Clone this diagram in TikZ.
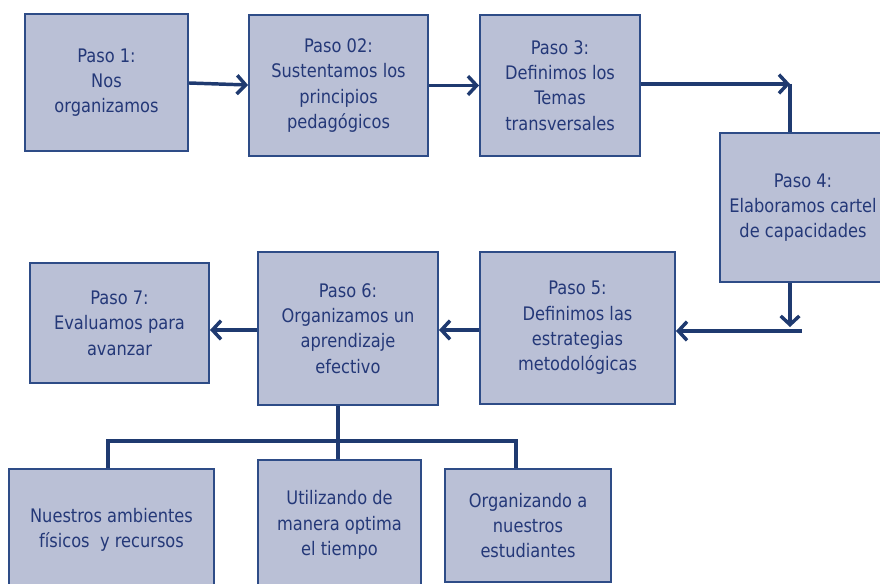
\documentclass[tikz,border=0pt]{standalone}
\usepackage{fontspec}
\setmainfont{DejaVu Sans}[FakeStretch=0.87]
\usetikzlibrary{arrows.meta}
\definecolor{mnavy}{RGB}{31,58,112}
\definecolor{mfill}{RGB}{186,192,214}
\definecolor{mline}{RGB}{46,76,135}
\definecolor{mtext}{RGB}{36,56,120}
\tikzset{paso/.style = {draw=mline, line width=1.5pt, fill=mfill, text=mtext,
                        align=center, inner sep=0pt,
                        font=\fontsize{14}{19}\selectfont},
         dims/.style 2 args = {minimum width=#1*0.75pt, minimum height=#2*0.75pt},
         link/.style = {draw=mnavy, line width=2.6pt},
         arr/.style = {link, -{Straight Barb[length=6.5pt,width=14pt]}}}

\begin{document}
\begin{tikzpicture}[x=0.75pt, y=-0.75pt]
      \useasboundingbox (0, 0) rectangle (880, 584);

      \node [paso, dims={163}{137}] (s1) at (106.5, 82.5) {Paso 1:\\Nos\\organizamos};
      \node [paso, dims={179}{141}] (s2) at (338.5, 85.5) {Paso 02:\\Sustentamos los\\principios\\pedagógicos};
      \node [paso, dims={160}{141}] (s3) at (560, 85.5) {Paso 3:\\Definimos los\\Temas\\transversales};
      \node [paso, dims={166}{149}] (s4) at (803, 207.5) {Paso 4:\\Elaboramos cartel\\de capacidades};
      \node [paso, dims={195}{152}] (s5) at (577.5, 328) {Paso 5:\\Definimos las\\estrategias\\metodológicas};
      \node [paso, dims={180}{153}] (s6) at (348, 328.5) {Paso 6:\\Organizamos un\\aprendizaje\\efectivo};
      \node [paso, dims={179}{120}] (s7) at (119.5, 323) {Paso 7:\\Evaluamos para\\avanzar};

      \node [paso, dims={205}{122}] (amb) at (111.5, 530) {Nuestros ambientes\\físicos\ \ y recursos};
      \node [paso, dims={163}{130}] (tie) at (339.5, 525) {Utilizando de\\manera optima\\el tiempo};
      \node [paso, dims={166}{113}] (est) at (528, 525.5) {Organizando a\\nuestros\\estudiantes};

      \coordinate (c1) at (790, 84);
      \coordinate (c2) at (790, 327);
      \coordinate (c3) at (802, 331);
      \coordinate (ja) at (108, 441);
      \coordinate (jb) at (338, 441);
      \coordinate (jc) at (516, 441);

      \draw [arr] (s1.east |- 0, 83) -- (s2.west |- 0, 85);
      \draw [arr] (s2.east) -- (s3.west);
      \draw [arr] (s3.east |- c1) -- (c1);
      \draw [link] (c1) -- (c1 |- s4.north);
      \draw [arr] (c2 |- s4.south) -- (c2);
      \draw [arr] (c3) -- (c3 -| s5.east);
      \draw [arr] (s5.west |- 0, 330) -- (s6.east |- 0, 330);
      \draw [arr] (s6.west |- 0, 330) -- (s7.east |- 0, 330);

      \draw [link] (jb |- s6.south) -- (jb |- tie.north);
      \draw [link] (ja |- amb.north) -- (ja) -- (jc) -- (jc |- est.north);
\end{tikzpicture}
\end{document}
